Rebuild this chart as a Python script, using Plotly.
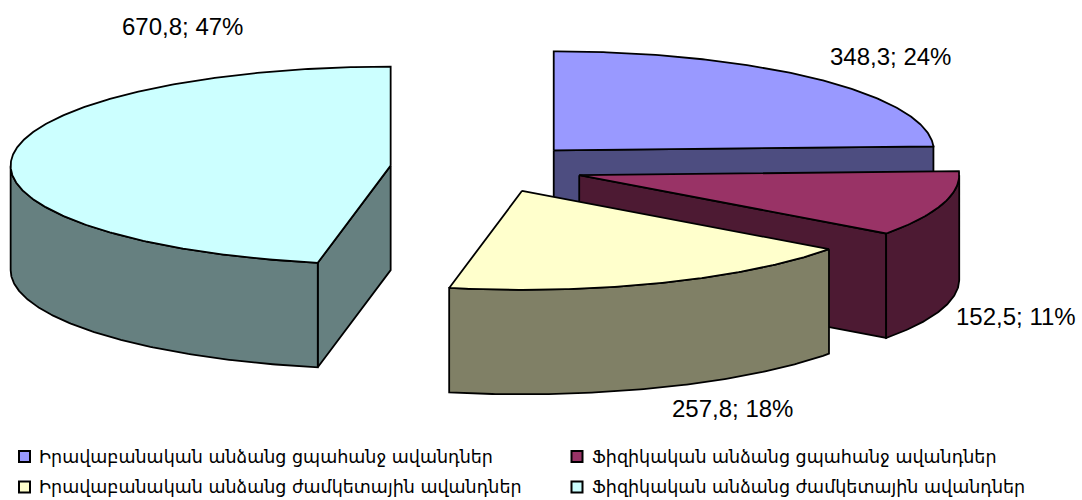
import math
import plotly.graph_objects as go

categories = [
    "Իրավաբանական անձանց ցպահանջ ավանդներ",
    "Ֆիզիկական անձանց ցպահանջ ավանդներ",
    "Իրավաբանական անձանց ժամկետային ավանդներ",
    "Ֆիզիկական անձանց ժամկետային ավանդներ",
]
values = [348.3, 152.5, 257.8, 670.8]
top_colors = ["#9999FF", "#993366", "#FFFFCC", "#CCFFFF"]
side_colors = ["#4D4D80", "#4D1A33", "#808066", "#668080"]

# pie geometry (pixels on the hidden axes)
PIE_X, PIE_Y = 486.8, 168
RX, RY, DEPTH = 380, 99, 104.5
EXPLODE_X, EXPLODE_Y = 96.6, 24.5
LINE = dict(color="black", width=1.8)
LABEL_POS = [(890, 56), (1016, 316), (732, 408), (182, 26)]
LABEL_FONT = dict(family="Liberation Sans, Arial", size=24, color="black")
LEGEND_FONT = dict(family="DejaVu Sans", size=17.5, color="black")
LEGEND_X = [24.5, 577]
LEGEND_Y = [456.5, 487]
LEGEND_TEXT_GAP = 13.5

fig = go.Figure()


def poly(pts, color):
    fig.add_trace(go.Scatter(
        x=[p[0] for p in pts], y=[p[1] for p in pts], mode="lines",
        fill="toself", fillcolor=color, line=LINE,
        hoverinfo="skip", showlegend=False))


total = sum(values)
start = 0.0
for v, top, side in zip(values, top_colors, side_colors):
    end = start + 360.0 * v / total
    mid = math.radians((start + end) / 2)
    cx = PIE_X + EXPLODE_X * math.sin(mid)
    cy = PIE_Y - EXPLODE_Y * math.cos(mid)

    def pt(deg, dz=0.0):
        a = math.radians(deg)
        return (cx + RX * math.sin(a), cy - RY * math.cos(a) + dz)

    def arc(a0, a1, dz=0.0):
        n = max(2, int(abs(a1 - a0) * 2))
        return [pt(a0 + (a1 - a0) * i / n, dz) for i in range(n + 1)]

    # cut faces that look towards the viewer
    centre, centre_low = (cx, cy), (cx, cy + DEPTH)
    for ang, normal in ((start, start - 90), (end, end + 90)):
        if math.cos(math.radians(normal)) < -1e-6:
            poly([centre, pt(ang), pt(ang, DEPTH), centre_low, centre], side)
    # outer wall
    w0, w1 = max(start, 90.0), min(end, 270.0)
    if w1 > w0:
        wall = arc(w0, w1) + arc(w1, w0, DEPTH)
        poly(wall + [wall[0]], side)
    # top face
    poly([centre] + arc(start, end) + [centre], top)
    start = end

for i, (v, (lx, ly)) in enumerate(zip(values, LABEL_POS)):
    txt = f"{v:.1f}".replace(".", ",") + f"; {round(100 * v / total)}%"
    fig.add_annotation(x=lx, y=ly, text=txt, showarrow=False, font=LABEL_FONT)

for i, name in enumerate(categories):
    mx, my = LEGEND_X[i % 2], LEGEND_Y[i // 2]
    fig.add_trace(go.Scatter(
        x=[mx], y=[my], mode="markers",
        marker=dict(symbol="square", size=11, color=top_colors[i],
                    line=dict(color="black", width=2)),
        hoverinfo="skip", showlegend=False))
    fig.add_annotation(x=mx + LEGEND_TEXT_GAP, y=my, text=name, showarrow=False,
                       xanchor="left", xshift=-1, font=LEGEND_FONT)

fig.update_layout(
    width=1082, height=500, margin=dict(l=0, r=0, t=0, b=0),
    paper_bgcolor="white", plot_bgcolor="white", showlegend=False,
    xaxis=dict(range=[0, 1082], visible=False, fixedrange=True),
    yaxis=dict(range=[500, 0], visible=False, fixedrange=True),
)
fig.write_html("out.html", config=dict(displayModeBar=False),
               post_script="document.body.style.margin='0';")
